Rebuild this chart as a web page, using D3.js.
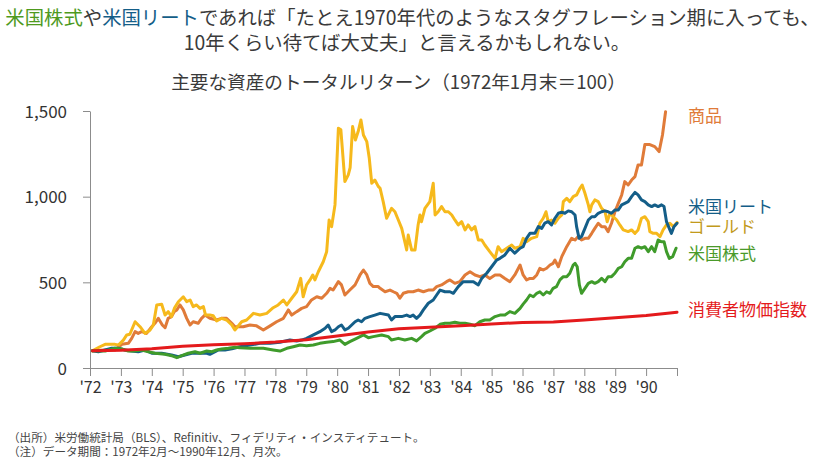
<!DOCTYPE html>
<html><head><meta charset="utf-8">
<script src="https://cdn.jsdelivr.net/npm/d3@7"></script>
<style>
body{margin:0;background:#fff;}
text{font-family:"Noto Sans CJK JP","Noto Sans",sans-serif;}
</style></head><body>
<svg id="c" width="825" height="464"></svg>
<script>
// ---------- data (decimal year, index value; 1972 Jan end = 100) ----------
const xTickYears = [1972,1973,1974,1975,1976,1977,1978,1979,1980,1981,1982,1983,1984,1985,1986,1987,1988,1989,1990,1991];
const xTickLabels = ["'72","'73","'74","'75","'76","'77","'78","'79","'80","'81","'82","'83","'84","'85","'86","'87","'88","'89","'90",""];
const yTicks = [0,500,1000,1500];

const commodities = [[1972.08,100],[1972.49,105],[1972.81,105],[1973.03,138],[1973.24,144],[1973.35,173],[1973.46,212],[1973.56,202],[1973.67,212],[1973.83,202],[1974.0,241],[1974.1,261],[1974.21,290],[1974.34,251],[1974.43,235],[1974.53,290],[1974.64,300],[1974.73,329],[1974.81,339],[1974.91,368],[1975.02,339],[1975.13,290],[1975.24,251],[1975.34,270],[1975.5,261],[1975.61,290],[1975.72,309],[1975.88,290],[1976.1,280],[1976.26,290],[1976.42,290],[1976.59,261],[1976.69,241],[1976.96,241],[1977.18,251],[1977.39,246],[1977.61,222],[1977.83,246],[1978.04,270],[1978.26,290],[1978.42,339],[1978.53,309],[1978.69,329],[1978.85,348],[1979.01,358],[1979.17,397],[1979.34,416],[1979.5,407],[1979.66,436],[1979.77,465],[1979.87,455],[1980.04,504],[1980.14,485],[1980.25,426],[1980.41,455],[1980.58,485],[1980.74,543],[1980.85,572],[1980.96,543],[1981.06,494],[1981.17,475],[1981.33,475],[1981.39,465],[1981.55,445],[1981.71,455],[1981.82,445],[1981.93,436],[1982.03,407],[1982.14,436],[1982.3,445],[1982.46,445],[1982.62,455],[1982.79,445],[1982.95,455],[1983.11,455],[1983.22,475],[1983.38,485],[1983.54,504],[1983.65,514],[1983.81,494],[1983.97,504],[1984.14,543],[1984.3,562],[1984.46,543],[1984.62,533],[1984.78,543],[1984.94,523],[1985.11,543],[1985.27,543],[1985.43,523],[1985.59,504],[1985.75,543],[1985.92,601],[1986.02,543],[1986.13,514],[1986.24,523],[1986.35,523],[1986.46,543],[1986.56,582],[1986.67,572],[1986.78,582],[1986.89,601],[1986.99,611],[1987.05,630],[1987.16,591],[1987.27,650],[1987.43,708],[1987.59,757],[1987.7,747],[1987.8,767],[1987.91,747],[1988.02,757],[1988.13,757],[1988.24,786],[1988.34,815],[1988.45,845],[1988.56,825],[1988.67,825],[1988.77,796],[1988.88,845],[1988.99,912],[1989.1,961],[1989.21,1010],[1989.31,1088],[1989.42,1068],[1989.53,1097],[1989.64,1117],[1989.74,1185],[1989.85,1185],[1989.96,1304],[1990.12,1304],[1990.28,1292],[1990.42,1263],[1990.53,1360],[1990.63,1496]];

const gold = [[1972.08,100],[1972.32,124],[1972.49,138],[1972.81,138],[1972.92,134],[1973.08,163],[1973.19,193],[1973.29,197],[1973.46,270],[1973.62,241],[1973.78,202],[1973.94,220],[1974.05,251],[1974.16,368],[1974.32,372],[1974.43,309],[1974.53,329],[1974.64,300],[1974.73,348],[1974.86,387],[1975.02,416],[1975.13,387],[1975.24,397],[1975.34,358],[1975.45,368],[1975.56,348],[1975.67,358],[1975.74,309],[1975.88,309],[1975.99,305],[1976.1,274],[1976.26,290],[1976.42,280],[1976.59,251],[1976.69,222],[1976.91,270],[1977.07,280],[1977.29,319],[1977.5,309],[1977.72,319],[1977.93,352],[1978.09,368],[1978.26,397],[1978.37,368],[1978.53,407],[1978.69,445],[1978.82,523],[1978.9,416],[1979.01,485],[1979.12,514],[1979.21,543],[1979.28,514],[1979.39,562],[1979.55,620],[1979.66,679],[1979.74,864],[1979.82,825],[1979.93,952],[1980.04,1400],[1980.12,1390],[1980.25,1088],[1980.36,1127],[1980.42,1170],[1980.5,1409],[1980.59,1331],[1980.68,1380],[1980.77,1448],[1980.85,1360],[1980.96,1321],[1981.04,1224],[1981.12,1078],[1981.22,1097],[1981.33,1060],[1981.39,1049],[1981.49,971],[1981.6,874],[1981.76,932],[1981.87,912],[1981.98,864],[1982.09,815],[1982.25,689],[1982.3,776],[1982.41,689],[1982.52,689],[1982.62,835],[1982.68,893],[1982.73,854],[1982.84,932],[1983.0,971],[1983.11,1078],[1983.17,893],[1983.27,912],[1983.38,942],[1983.49,912],[1983.6,912],[1983.71,893],[1983.81,864],[1983.92,835],[1984.03,854],[1984.14,806],[1984.24,835],[1984.35,806],[1984.46,825],[1984.57,747],[1984.68,747],[1984.78,718],[1984.94,679],[1985.11,640],[1985.21,708],[1985.32,679],[1985.49,699],[1985.65,718],[1985.75,699],[1985.92,708],[1986.02,757],[1986.13,737],[1986.29,757],[1986.46,767],[1986.56,845],[1986.67,874],[1986.76,912],[1986.83,854],[1986.94,864],[1987.05,845],[1987.16,874],[1987.27,893],[1987.32,971],[1987.43,990],[1987.53,971],[1987.64,1000],[1987.75,1010],[1987.86,1049],[1987.93,1068],[1988.02,1020],[1988.13,952],[1988.18,912],[1988.24,952],[1988.34,981],[1988.45,971],[1988.56,932],[1988.67,912],[1988.74,854],[1988.83,903],[1988.94,883],[1989.05,864],[1989.15,835],[1989.26,806],[1989.42,796],[1989.53,806],[1989.64,786],[1989.74,806],[1989.85,874],[1989.96,883],[1990.07,854],[1990.12,796],[1990.23,786],[1990.34,786],[1990.45,767],[1990.55,806],[1990.66,835],[1990.77,845],[1990.88,825],[1991.0,850]];

const reit = [[1972.08,100],[1972.27,95],[1972.49,105],[1972.7,115],[1972.92,115],[1973.13,105],[1973.35,99],[1973.56,95],[1973.78,105],[1974.0,86],[1974.32,86],[1974.64,76],[1974.86,66],[1975.07,76],[1975.29,86],[1975.56,86],[1975.78,86],[1975.88,80],[1976.05,95],[1976.15,105],[1976.37,105],[1976.59,112],[1976.85,124],[1977.18,134],[1977.5,144],[1977.83,144],[1978.15,150],[1978.47,163],[1978.69,158],[1978.85,163],[1979.01,173],[1979.23,193],[1979.44,212],[1979.61,232],[1979.71,251],[1979.82,212],[1979.93,222],[1980.04,241],[1980.14,251],[1980.25,222],[1980.36,232],[1980.47,251],[1980.58,270],[1980.68,280],[1980.79,270],[1980.9,290],[1981.06,300],[1981.22,309],[1981.39,319],[1981.66,309],[1981.76,280],[1981.87,300],[1982.09,300],[1982.25,309],[1982.36,300],[1982.46,309],[1982.57,290],[1982.68,309],[1982.79,339],[1982.95,378],[1983.11,397],[1983.22,426],[1983.33,455],[1983.49,445],[1983.65,445],[1983.76,436],[1983.92,475],[1984.08,504],[1984.24,504],[1984.41,504],[1984.57,485],[1984.68,523],[1984.84,553],[1985.0,591],[1985.16,630],[1985.27,640],[1985.43,660],[1985.59,699],[1985.75,670],[1985.92,699],[1986.02,708],[1986.13,757],[1986.24,786],[1986.4,786],[1986.51,825],[1986.62,815],[1986.72,845],[1986.83,854],[1986.94,835],[1987.05,874],[1987.16,903],[1987.27,909],[1987.37,903],[1987.48,917],[1987.59,912],[1987.7,893],[1987.75,825],[1987.83,757],[1987.91,767],[1988.02,815],[1988.13,864],[1988.24,883],[1988.34,883],[1988.45,903],[1988.56,912],[1988.67,917],[1988.77,912],[1988.88,903],[1988.99,922],[1989.1,922],[1989.21,952],[1989.31,961],[1989.42,971],[1989.53,1000],[1989.64,1025],[1989.74,1010],[1989.85,981],[1989.96,971],[1990.07,952],[1990.18,942],[1990.28,952],[1990.39,942],[1990.5,952],[1990.58,942],[1990.66,854],[1990.77,806],[1990.82,786],[1990.9,825],[1991.0,845]];

const stocks = [[1972.08,100],[1972.49,99],[1972.81,115],[1973.03,111],[1973.24,99],[1973.46,99],[1973.67,105],[1973.89,95],[1974.1,86],[1974.43,80],[1974.64,72],[1974.81,60],[1974.97,72],[1975.18,86],[1975.4,95],[1975.56,86],[1975.78,99],[1975.94,95],[1976.1,105],[1976.26,111],[1976.48,115],[1976.69,121],[1976.85,118],[1977.18,115],[1977.61,115],[1977.93,105],[1978.15,99],[1978.37,115],[1978.58,124],[1978.8,134],[1979.01,130],[1979.23,134],[1979.44,144],[1979.66,150],[1979.87,154],[1980.09,163],[1980.25,138],[1980.41,154],[1980.63,173],[1980.85,193],[1981.01,177],[1981.17,183],[1981.44,193],[1981.66,183],[1981.76,163],[1981.98,173],[1982.19,163],[1982.41,173],[1982.57,158],[1982.73,183],[1982.84,202],[1983.0,216],[1983.17,232],[1983.33,255],[1983.49,261],[1983.65,261],[1983.81,267],[1983.97,261],[1984.14,261],[1984.3,255],[1984.46,247],[1984.62,270],[1984.78,280],[1984.94,280],[1985.11,300],[1985.27,309],[1985.43,309],[1985.59,329],[1985.75,319],[1985.92,348],[1986.02,373],[1986.13,397],[1986.24,426],[1986.35,416],[1986.46,436],[1986.56,445],[1986.67,426],[1986.78,445],[1986.89,436],[1986.99,465],[1987.1,475],[1987.21,514],[1987.32,533],[1987.43,533],[1987.53,553],[1987.64,601],[1987.7,611],[1987.77,591],[1987.84,485],[1987.91,436],[1988.02,465],[1988.13,494],[1988.24,504],[1988.34,494],[1988.45,504],[1988.56,523],[1988.67,504],[1988.77,533],[1988.88,533],[1988.99,553],[1989.1,582],[1989.21,591],[1989.31,620],[1989.42,640],[1989.53,640],[1989.64,699],[1989.74,708],[1989.85,699],[1989.96,708],[1990.07,679],[1990.18,708],[1990.28,679],[1990.39,747],[1990.5,737],[1990.58,737],[1990.66,679],[1990.75,640],[1990.86,650],[1990.97,699]];

const cpi = [[1972.08,100],[1973,103.4],[1974,112.4],[1975,126.3],[1976,135.0],[1977,141.6],[1978,151.1],[1979,164.7],[1980,186.6],[1981,210.0],[1982,228.7],[1983,237.5],[1984,246.5],[1985,256.2],[1986,265.9],[1987,268.9],[1988,280.8],[1989,293.2],[1990,306.8],[1991,325.5]];

const seriesNames = ["商品","ゴールド","米国リート","米国株式","消費者物価指数"];
const seriesData = [commodities, gold, reit, stocks, cpi];
const lineColors = ["#e07b39","#f6b91c","#145e88","#3f9b2b","#e41a1c"];
const labelColors = ["#e07b39","#c29a1c","#145e88","#4a9a2a","#e41a1c"];
const labelY = [121.5,233,212.5,259.5,315.5];

// ---------- drawing ----------
const svg = d3.select("#c");
const x = d3.scaleLinear().domain([1972,1991]).range([90,677]);
const y = d3.scaleLinear().domain([0,1500]).range([368,111]);

// titles
const t1 = svg.append("text").attr("x",412.5).attr("y",25).attr("text-anchor","middle").style("font-size","19px").attr("fill","#3a3a3a");
t1.append("tspan").attr("fill","#4e9a1e").text("米国株式");
t1.append("tspan").text("や");
t1.append("tspan").attr("fill","#145e88").text("米国リート");
t1.append("tspan").text("であれば「たとえ1970年代のようなスタグフレーション期に入っても、");
const w1 = t1.node().getComputedTextLength();
const fs = 19*815/w1;
t1.style("font-size",fs+"px");
svg.append("text").attr("x",407).attr("y",49.5).attr("text-anchor","middle").style("font-size",fs+"px").attr("fill","#3a3a3a")
  .text("10年くらい待てば大丈夫」と言えるかもしれない。");

const sub = svg.append("text").attr("x",398.5).attr("y",88.5).attr("text-anchor","middle").style("font-size","18px").attr("fill","#3a3a3a")
  .text("主要な資産のトータルリターン（1972年1月末＝100）");
sub.style("font-size",(18*455/sub.node().getComputedTextLength())+"px");

// axes
const xAxis = d3.axisBottom(x).tickValues(xTickYears).tickFormat((d,i)=>xTickLabels[i]).tickSize(8).tickSizeOuter(0).tickPadding(6);
const gx = svg.append("g").attr("transform","translate(0,368)").call(xAxis);
gx.selectAll("path,line").attr("stroke","#8c8c8c");
gx.selectAll("text").style("font-size","16px").attr("fill","#333");

const yAxis = d3.axisLeft(y).tickValues(yTicks).tickFormat(d3.format(",")).tickSize(7).tickSizeOuter(0).tickPadding(16);
const gy = svg.append("g").attr("transform","translate(90,0)").call(yAxis);
gy.selectAll("path,line").attr("stroke","#8c8c8c");
gy.selectAll("text").style("font-size","17px").attr("fill","#333").attr("dy","0.36em");

// lines
const line = d3.line().x(d=>x(d[0])).y(d=>y(d[1])).curve(d3.curveLinear);
seriesData.forEach((s,i)=>{
  svg.append("path").datum(s).attr("d",line).attr("fill","none")
    .attr("stroke",lineColors[i]).attr("stroke-width",3).attr("stroke-linejoin","round").attr("stroke-linecap","round");
});

// labels
seriesNames.forEach((n,i)=>{
  svg.append("text").attr("x",688).attr("y",labelY[i]).style("font-size","17px").attr("fill",labelColors[i]).text(n);
});

// footnotes
svg.append("text").attr("x",8).attr("y",441.5).style("font-size","11.6px").attr("fill","#444")
  .text("（出所）米労働統計局（BLS）、Refinitiv、フィデリティ・インスティテュート。");
svg.append("text").attr("x",8).attr("y",455.5).style("font-size","11.6px").attr("fill","#444")
  .text("（注）データ期間：1972年2月～1990年12月、月次。");
</script>
</body></html>
